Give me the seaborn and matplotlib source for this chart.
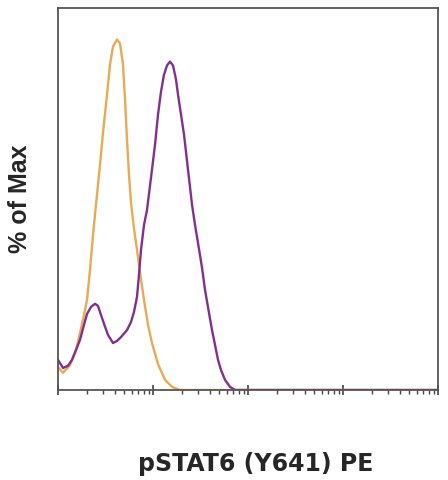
"""
pSTAT6 (Y641) PE histogram overlay
"""

import matplotlib
matplotlib.use('Agg')
import matplotlib.pyplot as plt
import seaborn as sns
import pandas as pd
import numpy as np
from matplotlib.ticker import LogLocator, NullFormatter

# intensity values and % of max
control_x = [1.00, 1.129, 1.338, 1.547, 1.704, 1.878, 2.020, 2.172, 2.336, 2.512, 2.767, 2.976,
             3.280, 3.527, 3.793, 4.179, 4.494, 4.833, 5.074, 5.325, 5.590, 5.867, 6.310, 6.786,
             7.298, 8.04, 8.86, 9.76, 11.29, 13.38, 15.85, 19.24, 10000]
control_y = [6.6, 4.9, 7.1, 11.4, 16.3, 21.4, 25.7, 34.3, 44.3, 52.9, 64.3, 73.4,
             84.3, 92.9, 98.0, 100.0, 98.9, 92.9, 82.9, 71.4, 61.4, 53.5, 46.0, 40.0,
             33.5, 25.7, 18.6, 13.4, 7.4, 2.9, 0.9, 0.0, 0.0]

treated_x = [1.00, 1.129, 1.274, 1.404, 1.547, 1.704, 1.878, 2.020, 2.226, 2.452, 2.637, 2.836,
             3.050, 3.360, 3.793, 4.179, 4.605, 5.325, 5.867, 6.310, 6.786, 7.122, 7.477, 8.04,
             8.65, 9.76, 10.50, 11.29, 12.14, 13.06, 14.04, 15.10, 16.24, 17.46, 18.33, 19.71,
             21.20, 23.36, 25.74, 27.68, 29.76, 32.80, 35.27, 38.86, 41.79, 44.94, 48.33, 51.97,
             57.27, 64.66, 72.98, 10000]
treated_y = [8.6, 6.3, 6.9, 8.6, 11.4, 14.3, 18.6, 21.7, 23.7, 24.6, 24.0, 21.4,
             18.9, 15.7, 13.4, 14.0, 15.1, 17.1, 19.4, 22.3, 26.6, 32.9, 40.0, 47.1,
             51.4, 62.9, 70.0, 78.6, 85.1, 90.0, 92.6, 93.7, 92.6, 88.6, 84.3, 78.6,
             72.9, 62.9, 52.9, 47.1, 42.0, 34.9, 28.6, 22.0, 17.1, 12.9, 8.6, 5.7,
             2.9, 0.9, 0.0, 0.0]

df = pd.concat([
    pd.DataFrame({'x': control_x, 'y': control_y, 'sample': 'control'}),
    pd.DataFrame({'x': treated_x, 'y': treated_y, 'sample': 'treated'}),
])

sns.set_style('white')
plt.rcParams['font.family'] = ['Liberation Sans', 'DejaVu Sans']

fig = plt.figure(figsize=(4.48, 4.8), dpi=100)
ax = fig.add_axes([58/448, 1 - 390/480, 380/448, 382/480])

sns.lineplot(data=df, x='x', y='y', hue='sample', sort=False,
             palette={'control': '#E8AA55', 'treated': '#82308E'},
             linewidth=1.7, legend=False, ax=ax)

ax.set_xscale('log')
ax.set_xlim(1, 10000)
ax.set_ylim(0, 109)
ax.set_yticks([])
ax.xaxis.set_major_locator(LogLocator(base=10, numticks=10))
ax.xaxis.set_minor_locator(LogLocator(base=10, subs=np.arange(2, 10), numticks=10))
ax.xaxis.set_major_formatter(NullFormatter())
ax.xaxis.set_minor_formatter(NullFormatter())
ax.tick_params(axis='x', which='major', direction='inout', length=7, width=1.2, color='#444444', bottom=True)
ax.tick_params(axis='x', which='minor', direction='out', length=3, width=1, color='#444444', bottom=True)

for s in ax.spines.values():
    s.set_color('#555555')
    s.set_linewidth(1.3)

ax.set_xlabel('pSTAT6 (Y641) PE', fontsize=17, fontweight='bold', family='DejaVu Sans', labelpad=38)
ax.xaxis.label.set_x(0.52)
ax.set_ylabel('% of Max', fontsize=18, fontweight='bold', labelpad=18.5)

plt.savefig('out.png', dpi=100)
plt.close()
